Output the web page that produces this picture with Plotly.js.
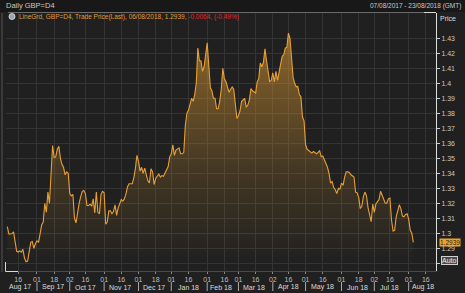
<!DOCTYPE html>
<html>
<head>
<meta charset="utf-8">
<script src="https://cdn.plot.ly/plotly-3.0.1.min.js"></script>
<style>
html,body{margin:0;padding:0;background:#202020;}
#chart{width:465px;height:293px;}
</style>
</head>
<body>
<div id="chart"></div>
<script>
// Daily GBP=D4 closes, one value per weekday, grouped by month
const aug17 = [1.3045,1.2995,1.2995,1.2998,1.3010, 1.2950,1.2880,1.2875,1.2883,1.2874, 1.2893,1.2835,1.2810,1.2815,1.2880, 1.2940,1.2945,1.2900,1.2930];
const sep17 = [1.2950, 1.2940,1.3010,1.3055,1.3075,1.3200, 1.3140,1.3275,1.3200,1.3390,1.3585, 1.3505,1.3510,1.3560,1.3580,1.3500, 1.3460,1.3440,1.3390,1.3410,1.3400];
const oct17 = [1.3265,1.3250,1.3260,1.3100,1.3070, 1.3150,1.3200,1.3245,1.3280,1.3285, 1.3265,1.3185,1.3185,1.3195,1.3180, 1.3230,1.3135,1.3275,1.3140,1.3130, 1.3260,1.3280];
const nov17 = [1.3270,1.3060,1.3075, 1.3150,1.3150,1.3130,1.3145,1.3190, 1.3120,1.3170,1.3200,1.3225,1.3215, 1.3230,1.3265,1.3310,1.3330,1.3330, 1.3330,1.3370,1.3430,1.3520];
const dec17 = [1.3480, 1.3415,1.3440,1.3400,1.3435,1.3390, 1.3350,1.3335,1.3430,1.3410,1.3325, 1.3365,1.3385,1.3395,1.3375,1.3385, 1.3380,1.3400,1.3420,1.3445,1.3510];
const jan18 = [1.3530,1.3590,1.3520,1.3555,1.3565, 1.3570,1.3530,1.3530,1.3540,1.3720, 1.3800,1.3820,1.3860,1.3900,1.3880, 1.3925,1.4000,1.4235,1.4150,1.4150, 1.4080,1.4110,1.4190];
const feb18 = [1.4270,1.4120, 1.3970,1.3950,1.3900,1.3900,1.3830, 1.3830,1.3880,1.3960,1.4100,1.4030, 1.4010,1.3975,1.3940,1.3960,1.3975, 1.3960,1.3875,1.3765];
const mar18 = [1.3785,1.3815, 1.3880,1.3890,1.3900,1.3840,1.3855, 1.3890,1.3965,1.3950,1.3945,1.3935, 1.4010,1.4030,1.4135,1.4110,1.4140, 1.4230,1.4150,1.4080,1.4010,1.4020];
const apr18 = [1.4070,1.4010,1.4080,1.4020,1.4080, 1.4125,1.4180,1.4190,1.4235,1.4240, 1.4335,1.4300,1.4155,1.4040,1.4000, 1.3975,1.3980,1.3925,1.3910,1.3775, 1.3750];
const may18 = [1.3590,1.3560,1.3550,1.3545, 1.3535,1.3545,1.3540,1.3530,1.3540, 1.3550,1.3510,1.3515,1.3490,1.3470, 1.3440,1.3400,1.3335,1.3345,1.3305, 1.3290,1.3265,1.3300,1.3295];
const jun18 = [1.3335, 1.3320,1.3375,1.3410,1.3410,1.3405, 1.3390,1.3380,1.3375,1.3275,1.3270, 1.3240,1.3165,1.3180,1.3245,1.3275, 1.3250,1.3170,1.3125,1.3077,1.3195];
const jul18 = [1.3140,1.3195,1.3215,1.3225,1.3280, 1.3250,1.3220,1.3200,1.3200,1.3230, 1.3235,1.3090,1.3015,1.3020,1.3110, 1.3150,1.3190,1.3165,1.3115,1.3110, 1.3125,1.3130];
const aug18 = [1.3095,1.3020,1.3000,1.2939];

const monthStarts = ['2017-08-07','2017-09-01','2017-10-02','2017-11-01','2017-12-01','2018-01-01','2018-02-01','2018-03-01','2018-04-02','2018-05-01','2018-06-01','2018-07-02','2018-08-01'];
const monthSeries = [aug17,sep17,oct17,nov17,dec17,jan18,feb18,mar18,apr18,may18,jun18,jul18,aug18];
const monthLabels = ['Aug 17','Sep 17','Oct 17','Nov 17','Dec 17','Jan 18','Feb 18','Mar 18','Apr 18','May 18','Jun 18','Jul 18','Aug 18'];
const monthLabelDates = ['2017-08-17','2017-09-15','2017-10-16','2017-11-15','2017-12-15','2018-01-16','2018-02-14','2018-03-15','2018-04-16','2018-05-16','2018-06-15','2018-07-16','2018-08-14'];

const dayTickVals = ['2017-08-16','2017-09-01','2017-09-18','2017-10-02','2017-10-16','2017-11-01','2017-11-16','2017-12-01','2017-12-18','2018-01-01','2018-01-16','2018-02-01','2018-02-16','2018-03-01','2018-03-16','2018-04-02','2018-04-16','2018-05-01','2018-05-16','2018-06-01','2018-06-18','2018-07-02','2018-07-16','2018-08-01','2018-08-16'];
const dayTickText = ['16','01','18','02','16','01','16','01','18','01','16','01','16','01','16','02','16','01','16','01','18','02','16','01','16'];

const priceTicks = [1.28,1.29,1.30,1.31,1.32,1.33,1.34,1.35,1.36,1.37,1.38,1.39,1.40,1.41,1.42,1.43];
const priceTickText = ['','1.29','1.3','1.31','1.32','1.33','1.34','1.35','1.36','1.37','1.38','1.39','1.4','1.41','1.42','1.43'];
const lastPrice = 1.2939;

// build weekday dates for each month block
const xs = [], ys = [];
monthSeries.forEach((vals, i) => {
  const d = new Date(monthStarts[i] + 'T00:00:00Z');
  let k = 0;
  while (k < vals.length) {
    const wd = d.getUTCDay();
    if (wd !== 0 && wd !== 6) {
      xs.push(d.toISOString().slice(0,10));
      ys.push(vals[k]);
      k++;
    }
    d.setUTCDate(d.getUTCDate() + 1);
  }
});

const W = 465, H = 293;
const M = {l:6, r:29, t:13, b:22};
const PW = W - M.l - M.r, PH = H - M.t - M.b;
const px = v => (v - M.l) / PW;
const py = v => (H - M.b - v) / PH;

const txt = '#c8c8c8';
const font = 'Liberation Sans, Arial, sans-serif';

const annotations = [
  {xref:'paper', yref:'paper', x:px(4), y:py(6), xanchor:'left', yanchor:'middle', text:'Daily GBP=D4', showarrow:false, font:{family:font,size:7.5,color:txt}},
  {xref:'paper', yref:'paper', x:px(463), y:py(6.5), xanchor:'right', yanchor:'middle', text:'07/08/2017 - 23/08/2018 (GMT)', showarrow:false, font:{family:font,size:6.5,color:txt}},
  {xref:'paper', yref:'paper', x:px(17), y:py(17), xanchor:'left', yanchor:'middle', text:'LineGrd, GBP=D4, Trade Price(Last), 06/08/2018, 1.2939, <span style="color:#e8262a">-0.0064, (-0.49%)</span>', showarrow:false, font:{family:font,size:6.5,color:'#e49a36'}},
  {xref:'paper', yref:'paper', x:px(448), y:py(18), xanchor:'center', yanchor:'middle', text:'Price', showarrow:false, font:{family:font,size:7,color:'#dddddd'}},
  {xref:'paper', yref:'y', x:px(449.5), y:lastPrice, xanchor:'center', yanchor:'middle', text:'1.2939', showarrow:false, bgcolor:'#f0a22c', borderpad:0, font:{family:font,size:6.5,color:'#1e1e1e'}},
  {xref:'paper', yref:'paper', x:px(449), y:py(260.5), xanchor:'center', yanchor:'middle', text:'Auto', showarrow:false, bgcolor:'#4a4a4a', bordercolor:'#d0d0d0', borderwidth:1, borderpad:0, font:{family:font,size:7,color:'#eeeeee'}}
];
monthLabels.forEach((m, i) => {
  annotations.push({xref:'x', yref:'paper', x:monthLabelDates[i], y:py(287), xanchor:'center', yanchor:'middle', text:m, showarrow:false, font:{family:font,size:7,color:'#dcdcdc'}});
});

const shapes = [
  {type:'rect', xref:'paper', yref:'paper', x0:px(0), x1:px(W), y0:py(12), y1:py(0), fillcolor:'#181818', line:{width:0}, layer:'below'},
  {type:'line', xref:'paper', yref:'paper', x0:px(8), x1:px(436), y0:py(12.5), y1:py(12.5), line:{color:'#6a6a6a', width:1}},
  {type:'line', xref:'paper', yref:'paper', x0:px(424), x1:px(436), y0:py(12.5), y1:py(12.5), line:{color:'#d8d8d8', width:1}},
  {type:'line', xref:'paper', yref:'paper', x0:px(2), x1:px(2), y0:py(13), y1:py(272), line:{color:'#555555', width:1}},
  {type:'line', xref:'paper', yref:'paper', x0:px(5.5), x1:px(18), y0:py(271.5), y1:py(271.5), line:{color:'#d8d8d8', width:1}},
  {type:'line', xref:'paper', yref:'paper', x0:px(5.5), x1:px(5.5), y0:py(262), y1:py(271.5), line:{color:'#d8d8d8', width:1}},
  {type:'circle', xref:'paper', yref:'paper', x0:px(9), x1:px(15), y0:py(19.5), y1:py(13.5), fillcolor:'#9aa4b0', line:{color:'#e8e8e8', width:0.8}}
];
monthStarts.slice(1).forEach(d => {
  shapes.push({type:'line', xref:'x', yref:'paper', x0:d, x1:d, y0:py(282), y1:py(291), line:{color:'#aaaaaa', width:1}});
});

const trace = {
  x: xs, y: ys, type:'scatter', mode:'lines',
  line:{color:'#e8a035', width:1.1},
  fill:'tozeroy',
  fillgradient:{type:'vertical', start:1.28, stop:1.435, colorscale:[[0,'rgba(230,160,50,0.0)'],[0.4,'rgba(230,160,50,0.18)'],[1,'rgba(230,160,50,0.55)']]},
  hoverinfo:'skip'
};

const layout = {
  width:W, height:H,
  margin:M,
  paper_bgcolor:'#202020', plot_bgcolor:'#202020',
  showlegend:false,
  xaxis:{
    type:'date',
    range:['2017-08-04 04:00','2018-08-24 12:00'],
    rangebreaks:[{bounds:['sat','mon']}],
    tickmode:'array', tickvals:dayTickVals, ticktext:dayTickText,
    ticks:'outside', ticklen:2, tickcolor:'#888', tickwidth:1,
    tickfont:{family:font,size:7,color:'#bdbdbd'},
    showgrid:true, gridcolor:'#343434', gridwidth:1,
    showline:true, linecolor:'#4a4a4a', linewidth:1,
    zeroline:false, fixedrange:true
  },
  yaxis:{
    side:'right',
    range:[1.27487,1.44687],
    tickmode:'array', tickvals:priceTicks, ticktext:priceTickText,
    ticks:'outside', ticklen:3, tickcolor:'#cccccc',
    tickfont:{family:font,size:7,color:'#c8c8c8'},
    showgrid:true, gridcolor:'#343434', gridwidth:1,
    showline:true, linecolor:'#dddddd', linewidth:1,
    zeroline:false, fixedrange:true
  },
  annotations:annotations,
  shapes:shapes
};

Plotly.newPlot('chart', [trace], layout, {displayModeBar:false, staticPlot:true});
</script>
</body>
</html>
